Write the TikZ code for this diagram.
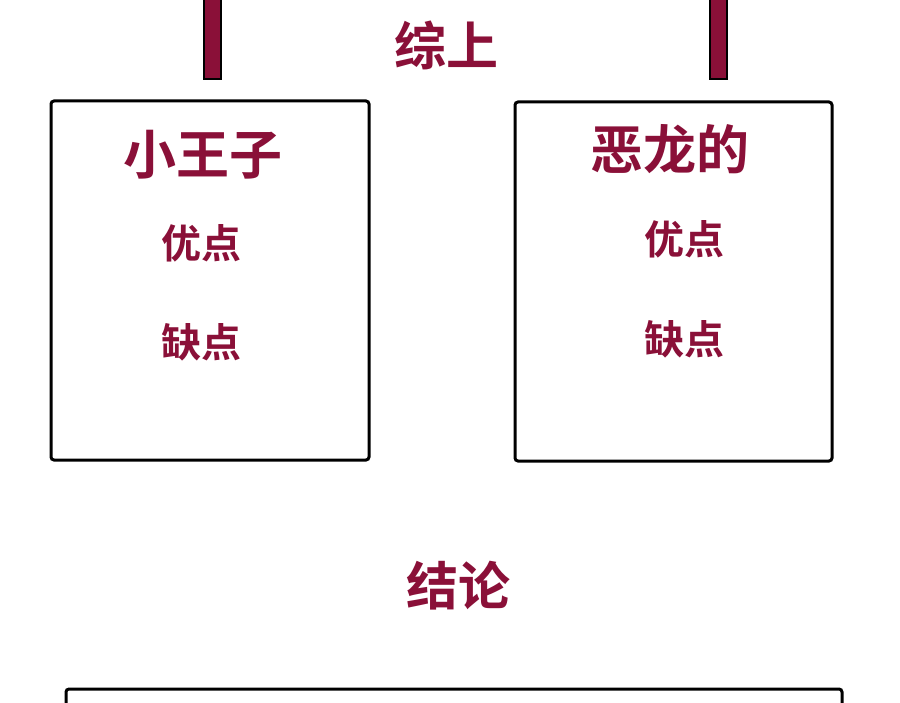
\documentclass[tikz,border=0pt]{standalone}
\usepackage{fontspec}
\setmainfont{Noto Sans CJK SC}[BoldFont=Noto Sans CJK SC Bold]
\definecolor{wine}{HTML}{8A1038}
\begin{document}
\begin{tikzpicture}[x=1pt,y=-1pt,
  panel/.style={draw=black,line width=3pt,rounded corners=3pt},
  bar/.style={draw=black,fill=wine,line width=2.5pt},
  big/.style={text=wine,font=\bfseries\fontsize{52}{52}\selectfont,inner sep=0pt},
  mid/.style={text=wine,font=\bfseries\fontsize{40}{40}\selectfont,inner sep=0pt}]
\useasboundingbox[fill=white] (0,0) rectangle (900,703);
\draw[bar] (204,-3) rectangle (221,79);
\draw[bar] (710,-3) rectangle (727,79);
\node[big] (zs) at (446,45) {综上};
\draw[panel] (51,101) rectangle (369,460);
\draw[panel] (515,102) rectangle (832,461);
\node[big,font=\bfseries\fontsize{53}{53}\selectfont] (xwz) at (203,155) {小王子};
\node[mid] (ly) at (201,243) {优点};
\node[mid] (lq) at (201,342) {缺点};
\node[big,font=\bfseries\fontsize{53}{53}\selectfont] (elong) at (670,149) {恶龙的};
\node[mid] (ry) at (684,239) {优点};
\node[mid] (rq) at (684,339) {缺点};
\node[big] (jl) at (458,586) {结论};
\draw[panel] (66,730) |- (842,689) -- (842,730);
\end{tikzpicture}
\end{document}
